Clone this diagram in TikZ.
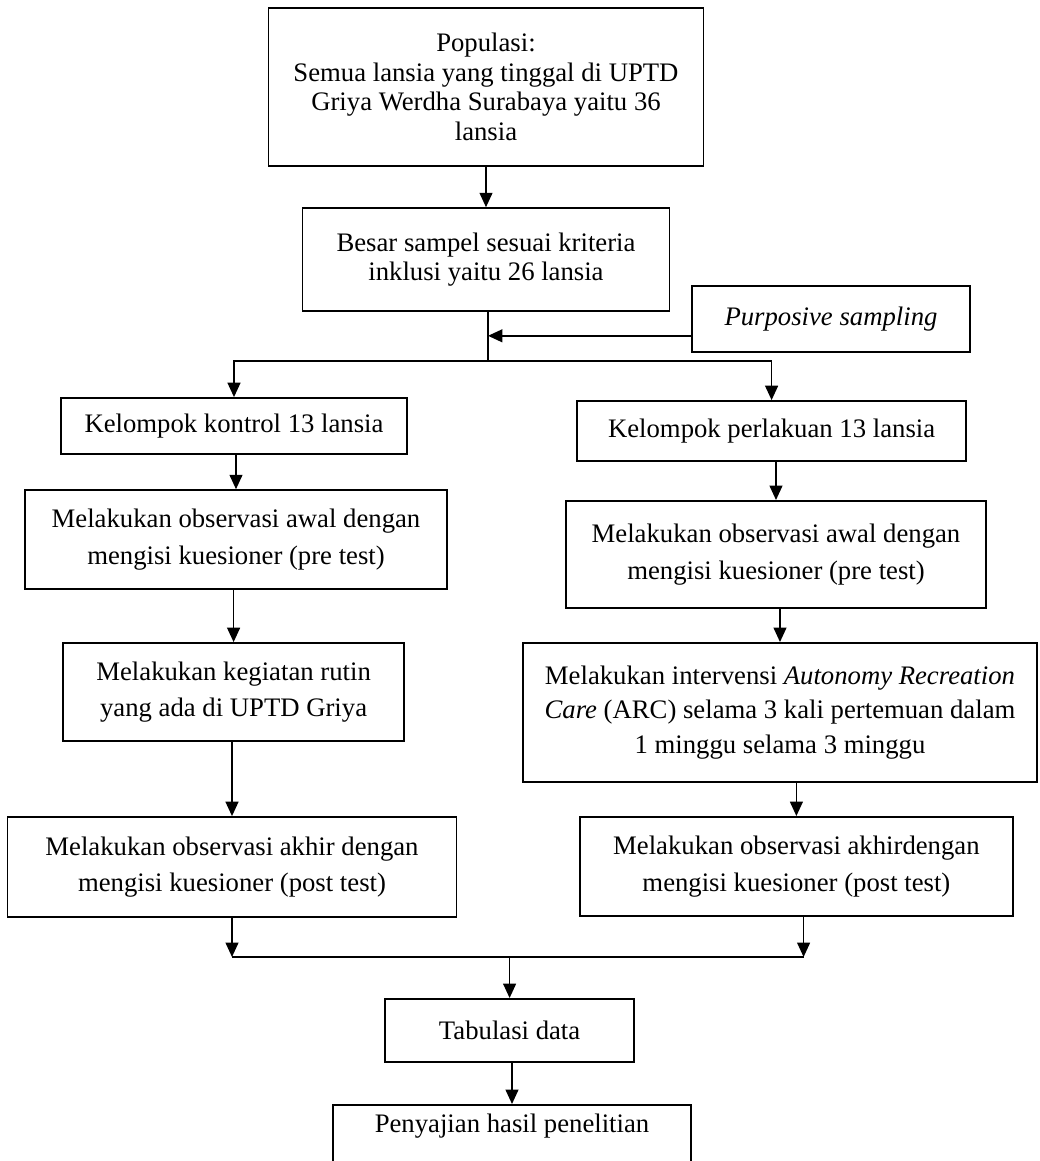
\documentclass[tikz,border=0pt]{standalone}
\usepackage{fontspec}
\setmainfont{Liberation Serif}
\usetikzlibrary{arrows.meta}

\begin{document}
\begin{tikzpicture}[
  box/.style={draw, line width=1.25pt, align=center, inner sep=2pt, font=\fontsize{19}{26}\selectfont},
  tight/.style={font=\fontsize{19}{21}\selectfont},
  arr/.style={-{Triangle[length=0.36cm,width=0.32cm]}, line width=1.25pt},
  ln/.style={line width=1.25pt}
]
\clip (0,0) rectangle (26,-29.025);

% Populasi dan sampel
\node[box, tight, minimum width=10.875cm, minimum height=3.95cm] (pop) at (12.15,-2.175)
  {Populasi:\\ Semua lansia yang tinggal di UPTD\\ Griya Werdha Surabaya yaitu 36\\ lansia};
\node[box, tight, minimum width=9.175cm, minimum height=2.575cm] (samp) at (12.15,-6.49)
  {Besar sampel sesuai kriteria\\ inklusi yaitu 26 lansia};
\node[box, minimum width=6.95cm, minimum height=1.65cm] (purp) at (20.775,-7.975)
  {\textit{Purposive sampling}};
\draw[arr] (pop) -- (samp);

% Pembagian kelompok
\coordinate (split) at (12.2,-9.025);
\coordinate (pin) at ([yshift=-0.42cm]purp.west);
\draw[ln] (samp.south -| split) -- (split);
\draw[arr] (pin) -- (pin -| split);

% Kelompok kontrol
\node[box, minimum width=8.65cm, minimum height=1.4cm] (kontrol) at (5.85,-10.65) {Kelompok kontrol 13 lansia};
\node[box, minimum width=10.55cm, minimum height=2.475cm] (preL) at (5.9,-13.49)
  {Melakukan observasi awal dengan\\ mengisi kuesioner (pre test)};
\node[box, minimum width=8.525cm, minimum height=2.45cm] (rutin) at (5.84,-17.3)
  {Melakukan kegiatan rutin\\ yang ada di UPTD Griya};
\node[box, minimum width=11.225cm, minimum height=2.5cm] (postL) at (5.8,-21.675)
  {Melakukan observasi akhir dengan\\ mengisi kuesioner (post test)};

% Kelompok perlakuan
\node[box, minimum width=9.725cm, minimum height=1.5cm] (perlak) at (19.29,-10.775) {Kelompok perlakuan 13 lansia};
\node[box, minimum width=10.5cm, minimum height=2.675cm] (preR) at (19.4,-13.86)
  {Melakukan observasi awal dengan\\ mengisi kuesioner (pre test)};
\node[box, minimum width=12.85cm, minimum height=3.475cm, font=\fontsize{19}{24.5}\selectfont] (interv) at (19.5,-17.81)
  {Melakukan intervensi \textit{Autonomy Recreation}\\ \textit{Care} (ARC) selama 3 kali pertemuan dalam\\ 1 minggu selama 3 minggu};
\node[box, minimum width=10.825cm, minimum height=2.475cm] (postR) at (19.91,-21.66)
  {Melakukan observasi akhirdengan\\ mengisi kuesioner (post test)};

\draw[arr] (split) -| (kontrol);
\draw[arr] (split) -| (perlak);
\draw[arr] (kontrol.south -| preL.north) -- (preL.north);
\draw[arr] (preL.south -| rutin.north) -- (rutin.north);
\draw[arr] (rutin.south -| postL.north) -- (postL.north);
\draw[arr] (perlak.south -| preR.north) -- (preR.north);
\draw[arr] (preR.south -| interv.north) -- (interv.north);
\draw[arr] (interv.south -| postR.north) -- (postR.north);

% Tabulasi dan penyajian
\coordinate (join) at (12.74,-23.925);
\node[box, minimum width=6.225cm, minimum height=1.575cm] (tab) at (12.74,-25.76) {Tabulasi data};
\node[box, anchor=north, minimum width=8.95cm, text height=0.62cm, text depth=1.4cm] (peny) at (12.8,-27.6)
  {Penyajian hasil penelitian};
\draw[arr] (postL) -- (postL |- join);
\draw[arr] ([xshift=0.18cm]postR.south) -- ([xshift=0.18cm]postR.south |- join);
\draw[ln] (postL |- join) -- ([xshift=0.18cm]postR.south |- join);
\draw[arr] (join) -- (tab);
\draw[arr] (tab.south -| peny.north) -- (peny.north);
\end{tikzpicture}
\end{document}
